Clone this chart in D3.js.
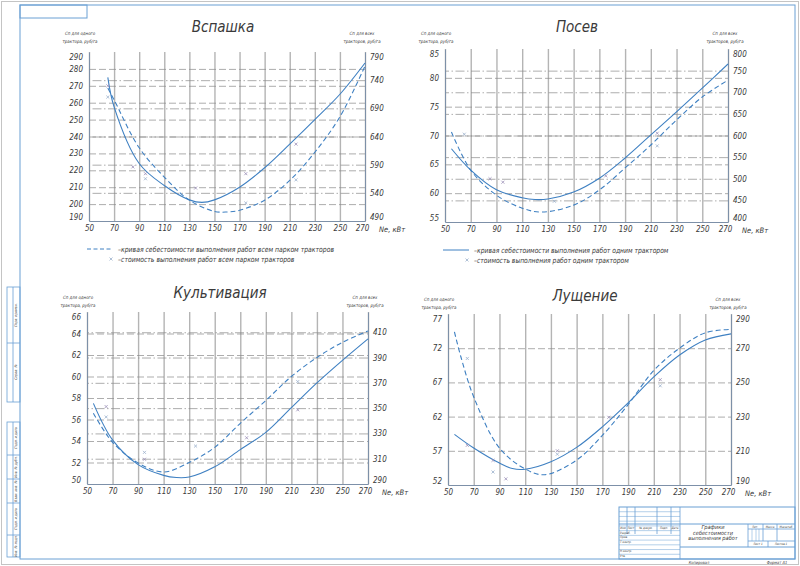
<!DOCTYPE html>
<html>
<head>
<meta charset="utf-8">
<script src="https://cdn.jsdelivr.net/npm/d3@7"></script>
<style>
  body { margin: 0; background: #fff; }
  svg text {
    font-family: "DejaVu Sans Condensed", "DejaVu Sans", "Liberation Sans", sans-serif;
    font-style: italic;
    fill: #3a3a3a;
  }
</style>
</head>
<body>
<svg id="sheet" width="800" height="566"></svg>
<script>
// ---- data ----
const neTicks = [50, 70, 90, 110, 130, 150, 170, 190, 210, 230, 250, 270];

// Вспашка
const plowLeftTicks = [190, 200, 210, 220, 230, 240, 250, 260, 270, 280, 290];
const plowRightTicks = [490, 540, 590, 640, 690, 740, 790];
const plowOneX = [65, 70, 90, 110, 130, 140, 150, 170, 190, 210, 230, 250, 270];
const plowOne = [275, 257.5, 224, 211, 202.5, 201, 202.5, 210, 221.5, 235.5, 250, 265, 283.5];
const plowAllX = [65, 70, 90, 110, 130, 150, 160, 170, 190, 210, 230, 250, 270];
const plowAll = [726, 705, 620, 568, 527, 507, 506, 509, 527, 562, 612, 675, 765];
const plowPtOneX = [65, 85, 95, 135, 175, 215];
const plowPtOne = [270, 222, 218, 209.5, 218, 235.5];
const plowPtAllX = [65, 95, 175, 215];
const plowPtAll = [710, 565, 522, 563];

// Посев
const sowLeftTicks = [55, 60, 65, 70, 75, 80, 85];
const sowRightTicks = [400, 450, 500, 550, 600, 650, 700, 750, 800];
const sowOneX = [55, 70, 90, 110, 120, 130, 150, 170, 190, 210, 230, 250, 270];
const sowOne = [67.7, 64, 60.6, 59.2, 58.9, 59, 60.2, 62.6, 66.1, 70.1, 74.1, 78.2, 82.4];
const sowAllX = [55, 70, 90, 110, 125, 150, 170, 190, 210, 230, 250, 270];
const sowAll = [608, 520, 462, 432, 423, 439, 474, 525, 578, 636, 689, 728];
const sowPtOneX = [85, 95, 175, 215];
const sowPtOne = [62.5, 61.9, 63, 70.4];
const sowPtAllX = [65, 135, 215];
const sowPtAll = [603, 448, 576];

// Культивация
const cultLeftTicks = [50, 52, 54, 56, 58, 60, 62, 64, 66];
const cultRightTicks = [290, 310, 330, 350, 370, 390, 410];
const cultOneX = [55, 70, 90, 110, 120, 130, 150, 170, 190, 210, 230, 250, 270];
const cultOne = [57.5, 54.1, 51.8, 50.8, 50.6, 50.65, 51.6, 53.2, 54.8, 57.1, 59.4, 61.5, 63.5];
const cultAllX = [55, 70, 90, 110, 130, 150, 170, 190, 210, 230, 250, 270];
const cultAll = [346, 323, 306.6, 299.5, 307, 319, 338, 356, 375, 390, 402, 411];
const cultPtOneX = [65, 95, 175, 215];
const cultPtOne = [57.2, 52.3, 54.3, 56.9];
const cultPtAllX = [65, 95, 135, 215];
const cultPtAll = [343, 315, 320, 371];

// Лущение
const discLeftTicks = [52, 57, 62, 67, 72, 77];
const discRightTicks = [190, 210, 230, 250, 270, 290];
const discOneX = [55, 70, 90, 100, 110, 130, 150, 170, 190, 210, 230, 250, 270];
const discOne = [59.4, 57.4, 55.2, 54.4, 54.3, 55.4, 57.5, 60.5, 64, 67.8, 71, 73.2, 74.1];
const discAllX = [55, 60, 70, 90, 110, 125, 150, 170, 190, 210, 230, 250, 270];
const discAll = [279.5, 265, 241.5, 211.6, 199.4, 196, 204.6, 219, 237, 257, 270, 279, 281];
const discPtOneX = [65, 85, 95, 135, 175, 215];
const discPtOne = [57.8, 55.6, 52.9, 57, 61.9, 67.4];
const discPtAllX = [65, 85, 135, 215];
const discPtAll = [264, 197.6, 208, 248];

const legendCurveAll = "–кривая себестоимости выполнения работ всем парком тракторов";
const legendPtsAll = "–стоимость выполнения работ всем парком тракторов";
const legendCurveOne = "–кривая себестоимости выполнения работ одним трактором";
const legendPtsOne = "–стоимость выполнения работ одним трактором";

// ---- layout ----
const blue = "#3f80c2";
const svg = d3.select("#sheet");

const charts = [
  { title: "Вспашка", x0: 89, x1: 365, y0: 52, y1: 221, tx: 223, ty: 32, labY: 35,
    left: [190, 290], leftTicks: plowLeftTicks, right: [490, 790], rightTicks: plowRightTicks, rightGrid: true,
    one: d3.zip(plowOneX, plowOne), all: d3.zip(plowAllX, plowAll),
    ptOne: d3.zip(plowPtOneX, plowPtOne), ptAll: d3.zip(plowPtAllX, plowPtAll),
    legend: { dashed: true, curve: legendCurveAll, pts: legendPtsAll } },
  { title: "Посев", x0: 445, x1: 728, y0: 49, y1: 222, tx: 577, ty: 32, labY: 35,
    left: [55, 85], leftTicks: sowLeftTicks, right: [400, 800], rightTicks: sowRightTicks, rightGrid: true,
    one: d3.zip(sowOneX, sowOne), all: d3.zip(sowAllX, sowAll),
    ptOne: d3.zip(sowPtOneX, sowPtOne), ptAll: d3.zip(sowPtAllX, sowPtAll),
    legend: { dashed: false, curve: legendCurveOne, pts: legendPtsOne } },
  { title: "Культивация", x0: 87, x1: 368, y0: 312, y1: 484, tx: 220, ty: 298, labY: 299,
    left: [50, 66], leftTicks: cultLeftTicks, right: [290, 426], rightTicks: cultRightTicks, rightGrid: true,
    one: d3.zip(cultOneX, cultOne), all: d3.zip(cultAllX, cultAll),
    ptOne: d3.zip(cultPtOneX, cultPtOne), ptAll: d3.zip(cultPtAllX, cultPtAll) },
  { title: "Лущение", x0: 448, x1: 731, y0: 314, y1: 485, tx: 585, ty: 301, labY: 301,
    left: [52, 77], leftTicks: discLeftTicks, right: [190, 290], rightTicks: discRightTicks, rightGrid: false,
    one: d3.zip(discOneX, discOne), all: d3.zip(discAllX, discAll),
    ptOne: d3.zip(discPtOneX, discPtOne), ptAll: d3.zip(discPtAllX, discPtAll) }
];

// page frame
svg.append("rect").attr("x", 1.5).attr("y", 1.5).attr("width", 797).attr("height", 563)
  .attr("fill", "none").attr("stroke", "#c4c4c4");
const frame = svg.append("g").attr("fill", "none").attr("stroke", "#6aa0d4").attr("stroke-width", 1);
frame.append("rect").attr("x", 20).attr("y", 5).attr("width", 775).attr("height", 554);
frame.append("rect").attr("x", 20).attr("y", 5).attr("width", 67).attr("height", 13);

// left strip
const strip = svg.append("g").attr("fill", "none").attr("stroke", "#6aa0d4").attr("stroke-width", 0.8);
[[287, 402, [343]], [422, 557, [455, 479, 503, 535]]].forEach(([a, b, cuts]) => {
  strip.append("rect").attr("x", 7).attr("y", a).attr("width", 13).attr("height", b - a);
  strip.append("line").attr("x1", 13).attr("x2", 13).attr("y1", a).attr("y2", b);
  cuts.forEach(c => strip.append("line").attr("x1", 7).attr("x2", 20).attr("y1", c).attr("y2", c));
});
const stripText = [["Перв. примен.", 17, 315], ["Справ. №", 17, 372],
  ["Подп. и дата", 17, 438], ["Инв. № дубл.", 17, 467], ["Взам. инв. №", 17, 491],
  ["Подп. и дата", 17, 519], ["Инв. № подл.", 17, 546]];
stripText.forEach(([t, x, y]) => svg.append("text").attr("transform", `translate(${x},${y}) rotate(-90)`)
  .attr("text-anchor", "middle").attr("font-size", 3.5).attr("fill", "#6b87a6").text(t));

function drawChart(c) {
  const g = svg.append("g");
  const w = c.x1 - c.x0, h = c.y1 - c.y0;
  const x = d3.scaleLinear().domain([50, 270]).range([c.x0, c.x1]);
  const yL = d3.scaleLinear().domain(c.left).range([c.y1, c.y0]);
  const yR = d3.scaleLinear().domain(c.right).range([c.y1, c.y0]);

  // bottom axis + vertical grid
  const xa = g.append("g").attr("transform", `translate(0,${c.y1})`)
    .call(d3.axisBottom(x).tickValues(neTicks).tickSizeInner(-h).tickSizeOuter(0).tickPadding(4));
  xa.selectAll(".tick line").attr("stroke", "#b4b4b4").attr("stroke-width", 1.4);
  xa.selectAll(".tick text").attr("dx", d => d === 270 ? -3 : 0);

  // right axis + dash-dot grid
  const ra = g.append("g").attr("transform", `translate(${c.x1},0)`)
    .call(d3.axisRight(yR).tickValues(c.rightTicks).tickSizeInner(-w).tickSizeOuter(0).tickPadding(5));
  ra.selectAll(".tick line")
    .attr("stroke", d => (!c.rightGrid || d <= c.right[0] || d >= c.right[1]) ? "none" : "#8a8a8a")
    .attr("stroke-width", 0.7).attr("stroke-dasharray", "9,2.5,1.5,2.5");

  // left axis + dashed grid
  const la = g.append("g").attr("transform", `translate(${c.x0},0)`)
    .call(d3.axisLeft(yL).tickValues(c.leftTicks).tickSizeInner(-w).tickSizeOuter(0).tickPadding(6));
  la.selectAll(".tick line")
    .attr("stroke", d => (d <= c.left[0] || d >= c.left[1]) ? "none" : "#8a8a8a")
    .attr("stroke-width", 0.7).attr("stroke-dasharray", "7,3");

  // end labels sit inside the axis span
  const nudge = dom => d => d >= dom[1] ? 5 : (d <= dom[0] ? -4 : 0);
  ra.selectAll(".tick text").attr("y", nudge(c.right));
  la.selectAll(".tick text").attr("y", nudge(c.left));

  [ra, la, xa].forEach(a => {
    a.select(".domain").attr("stroke", "#7d90a8").attr("stroke-width", 1);
    a.selectAll(".tick text").attr("font-size", 8).attr("fill", "#3a3a3a");
  });

  // curves
  const line = y => d3.line().x(d => x(d[0])).y(d => y(d[1])).curve(d3.curveCatmullRom.alpha(0.5));
  g.append("path").datum(c.one).attr("d", line(yL))
    .attr("fill", "none").attr("stroke", blue).attr("stroke-width", 1.1);
  g.append("path").datum(c.all).attr("d", line(yR))
    .attr("fill", "none").attr("stroke", blue).attr("stroke-width", 1.1).attr("stroke-dasharray", "5,3");

  // measured points
  const mark = d3.symbol(d3.symbolTimes, 7);
  g.selectAll(".p1").data(c.ptOne).join("path").attr("d", mark)
    .attr("transform", d => `translate(${x(d[0])},${yL(d[1])})`)
    .attr("fill", "none").attr("stroke", "#9a8fb8").attr("stroke-width", 0.8);
  g.selectAll(".p2").data(c.ptAll).join("path").attr("d", mark)
    .attr("transform", d => `translate(${x(d[0])},${yR(d[1])})`)
    .attr("fill", "none").attr("stroke", "#9ab0cc").attr("stroke-width", 0.8);

  // titles
  g.append("text").attr("x", c.tx).attr("y", c.ty)
    .attr("text-anchor", "middle").attr("font-size", 15).text(c.title);
  const small = (t, xx, yy) => g.append("text").attr("x", xx).attr("y", yy)
    .attr("text-anchor", "middle").attr("font-size", 4.4).text(t);
  small("Сп для одного", c.x0 - 9, c.labY);
  small("трактора, руб/га", c.x0 - 9, c.labY + 8);
  small("Сп для всех", c.x1 - 3, c.labY);
  small("тракторов, руб/га", c.x1 - 3, c.labY + 8);
  g.append("text").attr("x", c.x1 + 14).attr("y", c.y1 + 10.5).attr("font-size", 7.5).text("Ne, кВт");

  // legend
  if (c.legend) {
    const lx = c.x0 - 2, ly = c.y1 + 28;
    g.append("line").attr("x1", lx).attr("x2", lx + 26).attr("y1", ly).attr("y2", ly)
      .attr("stroke", blue).attr("stroke-width", 1)
      .attr("stroke-dasharray", c.legend.dashed ? "4,2.5" : null);
    g.append("text").attr("x", lx + 31).attr("y", ly + 2.5).attr("font-size", 7.4)
      .attr("textLength", c.legend.curve.length * 3.6).attr("lengthAdjust", "spacingAndGlyphs")
      .text(c.legend.curve);
    g.append("path").attr("d", mark).attr("transform", `translate(${lx + 24},${ly + 10})`)
      .attr("fill", "none").attr("stroke", "#9ab0cc").attr("stroke-width", 0.8);
    g.append("text").attr("x", lx + 31).attr("y", ly + 12.5).attr("font-size", 7.4)
      .attr("textLength", c.legend.pts.length * 3.6).attr("lengthAdjust", "spacingAndGlyphs")
      .text(c.legend.pts);
  }
}
charts.forEach(drawChart);

// ---- title block ----
const tb = svg.append("g").attr("fill", "none").attr("stroke", "#6aa0d4").attr("stroke-width", 0.8);
const L = 619, R = 795, T = 507, B = 559;
tb.append("rect").attr("x", L).attr("y", T).attr("width", R - L).attr("height", B - T).attr("stroke-width", 1);
[627, 635, 657, 671, 680].forEach(v => tb.append("line").attr("x1", v).attr("x2", v).attr("y1", T).attr("y2", v === 680 ? B : 534));
d3.range(1, 11).map(i => T + i * (B - T) / 11).forEach(y =>
  tb.append("line").attr("x1", L).attr("x2", 680).attr("y1", y).attr("y2", y).attr("stroke-width", 0.5));
tb.append("line").attr("x1", L).attr("x2", R).attr("y1", 524).attr("y2", 524).attr("stroke-width", 1);
tb.append("line").attr("x1", 680).attr("x2", R).attr("y1", 547).attr("y2", 547).attr("stroke-width", 1);
tb.append("line").attr("x1", 748).attr("x2", 748).attr("y1", 524).attr("y2", 547);
tb.append("line").attr("x1", 763).attr("x2", 763).attr("y1", 524).attr("y2", 541);
tb.append("line").attr("x1", 777).attr("x2", 777).attr("y1", 524).attr("y2", 541);
tb.append("line").attr("x1", 748).attr("x2", R).attr("y1", 529).attr("y2", 529);
tb.append("line").attr("x1", 748).attr("x2", R).attr("y1", 541).attr("y2", 541);
tb.append("line").attr("x1", 768).attr("x2", 768).attr("y1", 541).attr("y2", 547);
[752, 756, 759].forEach(v => tb.append("line").attr("x1", v).attr("x2", v).attr("y1", 529).attr("y2", 541).attr("stroke-width", 0.5));

const tbText = (t, x, y, s, anchor) => svg.append("text").attr("x", x).attr("y", y)
  .attr("font-size", s).attr("text-anchor", anchor || "middle").attr("fill", "#4a5a70").text(t);
tbText("Изм", 623, 529, 3); tbText("Лист", 631, 529, 3); tbText("№ докум.", 646, 529, 3);
tbText("Подп.", 664, 529, 3); tbText("Дата", 675, 529, 3);
tbText("Разраб.", 620, 533.5, 3, "start"); tbText("Пров.", 620, 538, 3, "start");
tbText("Т.контр.", 620, 543, 3, "start"); tbText("Н.контр.", 620, 552, 3, "start");
tbText("Утв.", 620, 557, 3, "start");
tbText("Графики", 713, 529, 5.6); tbText("себестоимости", 713, 534.5, 5.6); tbText("выполнения работ", 713, 540, 5.6);
tbText("Лит.", 755, 527.5, 3); tbText("Масса", 770, 527.5, 3); tbText("Масштаб", 786, 527.5, 3);
tbText("Лист 1", 758, 545, 3); tbText("Листов 1", 781, 545, 3);
tbText("Копировал", 699, 564, 4); tbText("Формат  A1", 777, 564, 4);
</script>
</body>
</html>
